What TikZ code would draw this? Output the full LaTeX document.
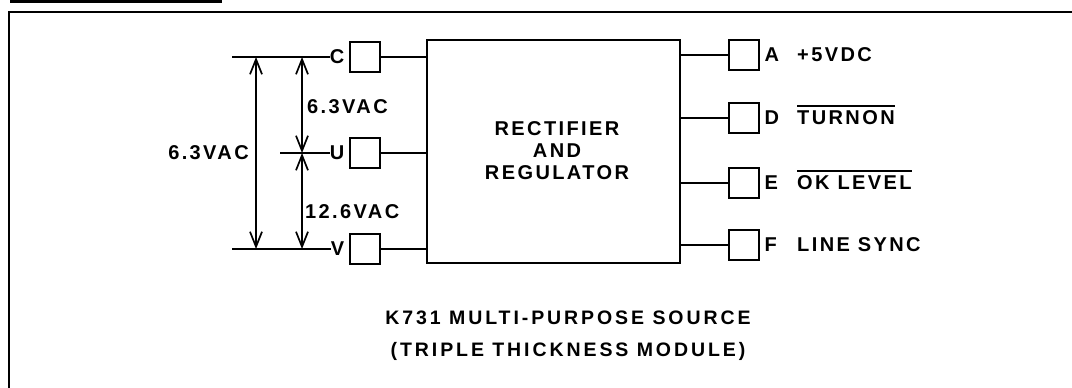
\documentclass[tikz,border=0pt]{standalone}
\usepackage{fontspec}
\newfontfamily\lblfont{Liberation Sans}[LetterSpace=12]
\newfontfamily\ttlfont{Liberation Sans}[LetterSpace=15]
\usetikzlibrary{arrows.meta}
\tikzset{
  pinbox/.style={draw, line width=2pt, minimum size=30pt, inner sep=0pt},
  wire/.style={line width=2pt},
  lab/.style={font=\lblfont\bfseries\fontsize{20}{22}\selectfont, inner sep=0pt},
  ttl/.style={font=\ttlfont\bfseries\fontsize{19.5}{32}\selectfont, inner sep=0pt},
  dimarr/.style={line width=1.7pt, {Straight Barb[length=15pt,width=12pt]}-{Straight Barb[length=15pt,width=12pt]}},
  extline/.style={line width=1.7pt},
  frameline/.style={line width=2.6pt}
}
\begin{document}
\begin{tikzpicture}[x=1pt,y=-1pt]
\useasboundingbox (0,0) rectangle (1072,388);
% frame
\coordinate (s1) at (10,1.5);
\coordinate (s2) at (222,1.5);
\draw[line width=3pt] (s1) -- (s2);
\coordinate (f1) at (9,388);
\coordinate (f2) at (9,12);
\coordinate (f3) at (1072,12);
\draw[frameline] (f1) -- (f2) -- (f3);
% main block
\node[draw, line width=2.2pt, minimum width=253pt, minimum height=223pt, inner sep=0pt] (blk) at (553.5,151.5) {};
\node[lab, align=center] (blktxt) at (557,151) {RECTIFIER\\AND\\REGULATOR};
% left pins
\node[pinbox] (pc) at (364.5,57) {};
\node[pinbox] (pu) at (364.5,153) {};
\node[pinbox] (pv) at (364.5,249) {};
\node[lab, anchor=east] (lc) at ([xshift=-4pt]pc.west) {C};
\node[lab, anchor=east] (lu) at ([xshift=-4pt]pu.west) {U};
\node[lab, anchor=east] (lv) at ([xshift=-4pt]pv.west) {V};
\draw[wire] (pc.east) -- (pc.east -| blk.west);
\draw[wire] (pu.east) -- (pu.east -| blk.west);
\draw[wire] (pv.east) -- (pv.east -| blk.west);
% extension lines
\coordinate (ec) at (232,57);
\coordinate (eu) at (280,153);
\coordinate (ev) at (232,249);
\draw[extline] (ec) -- (lc.west);
\draw[extline] (eu) -- (lu.west);
\draw[extline] (ev) -- (lv.west);
% dimension arrows
\coordinate (oa) at (256,57);
\coordinate (ob) at (256,249);
\coordinate (ia) at (302,57);
\coordinate (im) at (302,153);
\coordinate (ib) at (302,249);
\draw[dimarr] (oa) -- (ob);
\draw[dimarr] (ia) -- (im);
\draw[dimarr] (im) -- (ib);
\node[lab, anchor=east] (vout) at (249,153) {6.3VAC};
\node[lab, anchor=west] (vup) at (307,107) {6.3VAC};
\node[lab, anchor=west] (vlo) at (305,212) {12.6VAC};
% right pins
\node[pinbox] (pa) at (743.5,55) {};
\node[pinbox] (pd) at (743.5,118) {};
\node[pinbox] (pe) at (743.5,183) {};
\node[pinbox] (pf) at (743.5,245) {};
\draw[wire] (pa.west) -- (pa.west -| blk.east);
\draw[wire] (pd.west) -- (pd.west -| blk.east);
\draw[wire] (pe.west) -- (pe.west -| blk.east);
\draw[wire] (pf.west) -- (pf.west -| blk.east);
\node[lab, anchor=west] (la) at ([xshift=5pt]pa.east) {A};
\node[lab, anchor=west] (ld) at ([xshift=5pt]pd.east) {D};
\node[lab, anchor=west] (le) at ([xshift=5pt]pe.east) {E};
\node[lab, anchor=west] (lf) at ([xshift=5pt]pf.east) {F};
\node[lab, anchor=west] (ta) at (797,55) {+5VDC};
\node[lab, anchor=west] (td) at (797,118) {TURNON};
\node[lab, anchor=west] (te) at (797,183) {OK LEVEL};
\node[lab, anchor=west] (tf) at (797,245) {LINE SYNC};
\draw[line width=1.8pt] ([yshift=5pt]td.north west) -- ([yshift=5pt]td.north east);
\draw[line width=1.8pt] ([yshift=5pt]te.north west) -- ([yshift=5pt]te.north east);
% title
\node[ttl, align=center] (title) at (568,336) {K731 MULTI-PURPOSE SOURCE\\(TRIPLE THICKNESS MODULE)};
\end{tikzpicture}
\end{document}
